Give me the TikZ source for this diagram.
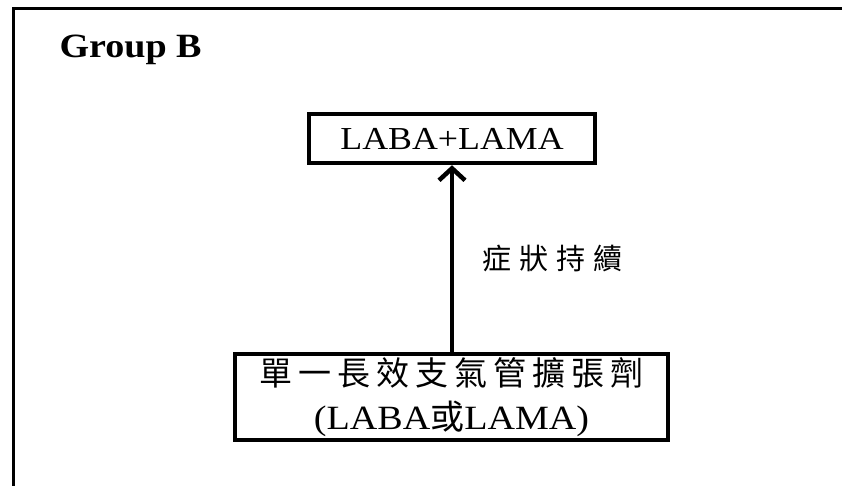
\documentclass[tikz,border=0pt]{standalone}
\usepackage{fontspec}
\setmainfont{Liberation Serif}[FakeStretch=1.12]
\newfontfamily\cjk{Noto Sans CJK TC}
\usetikzlibrary{arrows.meta,positioning}

\tikzset{
    medbox/.style={draw, line width=4.5pt, inner sep=0pt, align=center},
    flowarrow/.style={line width=4.5pt, -{Straight Barb[length=12pt, width=26pt]}}
}

\begin{document}
\begin{tikzpicture}[x=1pt, y=-1pt]
            \useasboundingbox (0,0) rectangle (842,485);
            \draw[line width=3pt] (13,490) -- (13,8) -- (850,8);

            \node[anchor=base west, font=\fontsize{34}{38}\selectfont\bfseries] (title) at (56,57) {Group B};

            \node[medbox, minimum width=286pt, minimum height=49pt, font=\fontsize{32}{36}\selectfont] (combo) at (452,138.5) {LABA+LAMA};
            \node[medbox, minimum width=433pt, minimum height=86pt, font=\fontsize{34}{44}\selectfont] (single) at (451.5,397)
                {{\cjk\fontsize{33}{44}\selectfont\addfontfeature{LetterSpace=18}單一長效支氣管擴張劑}\\(LABA{\cjk 或}LAMA)};

            \coordinate (mid) at (452,258);
            \node[right=30pt of mid, inner sep=0pt, font=\cjk\fontsize{29}{32}\selectfont\addfontfeature{LetterSpace=28}] (persist) {症狀持續};
            \draw[flowarrow] (single.north -| combo.south) -- (combo.south);
\end{tikzpicture}
\end{document}
